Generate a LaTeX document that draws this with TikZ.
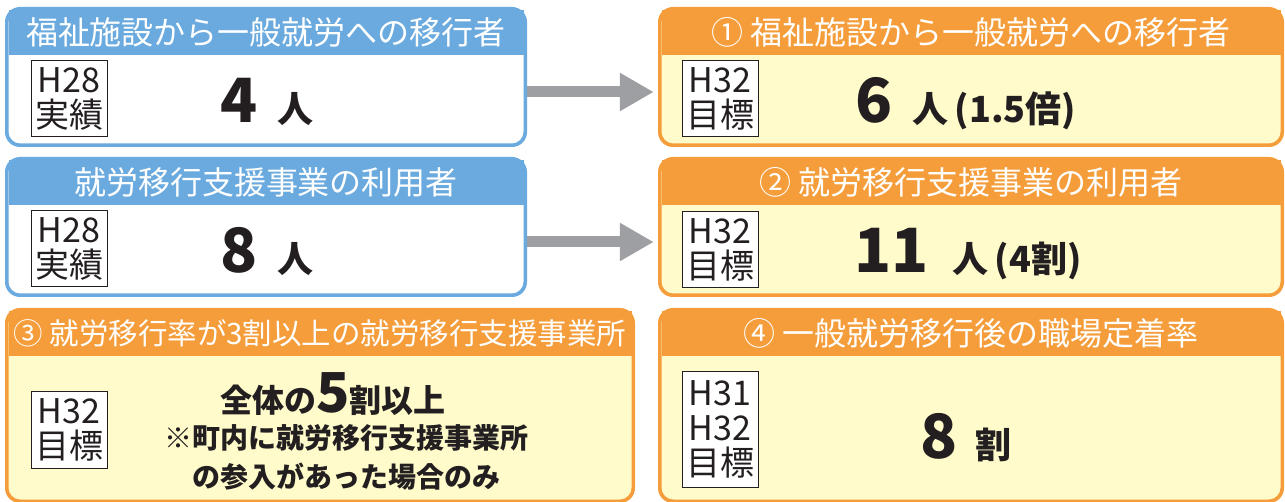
\documentclass[tikz,border=0pt]{standalone}
\usepackage{fontspec}
\setmainfont{Noto Sans CJK JP}
\usetikzlibrary{arrows.meta,fit}
\definecolor{hdrblue}{HTML}{6AAADE}
\definecolor{hdrorange}{HTML}{F59D3A}
\definecolor{goalfill}{HTML}{FFFBCB}
\definecolor{arrowgray}{HTML}{9D9FA2}
\definecolor{ink}{HTML}{231F20}
\tikzset{>=latex,
    hdr/.style={text=white,inner sep=0,font=\fontsize{32}{32}\selectfont},
    tag/.style={draw=ink,line width=1,fill=white,text=ink,align=center,
        inner sep=0,minimum width=76pt,minimum height=76pt,
        font=\fontsize{34}{35}\selectfont},
    val/.style={anchor=base,text=ink,inner sep=0,font=\bfseries},
    flow/.style={arrowgray,line width=11pt,
        -{Triangle[length=34pt,width=36pt]},shorten >=4pt}
}
\newcommand\panel[9]{
    \fill[#6,rounded corners=15] (#1,#2) rectangle (#3,#4);
    \fill[#7,rounded corners=12] (#1+3.5,#2+3.5) rectangle (#3-3.5,#4-3.5);
    \fill[#6] (#1+3.5,#2+3.5) rectangle (#3-3.5,#5);
    \node[fit={(#1,#2) (#3,#4)},inner sep=0] (#8) {};
    \node[hdr] (#8-hdr) at ({(#1+#3)/2},{(#2+#5)/2+1}) {#9};
}
\newcommand\numtxt[1]{{\fontsize{61}{61}\selectfont #1}}
\newcommand\unittxt[1]{{\fontsize{36}{36}\selectfont #1}}

\begin{document}
\begin{tikzpicture}[x=1pt,y=-1pt]
            \useasboundingbox (0,0) rectangle (1285,502);
            \panel{5}{7}{527}{147}{55}{hdrblue}{white}{now1}{福祉施設から一般就労への移行者}
            \panel{5}{157}{527}{297}{205}{hdrblue}{white}{now2}{就労移行支援事業の利用者}
            \panel{5}{308}{635}{503}{356}{hdrorange}{goalfill}{goal3}
                {\fontsize{29.5}{29.5}\selectfont ③ 就労移行率が3割以上の就労移行支援事業所}
            \panel{658}{7}{1284}{147}{55}{hdrorange}{goalfill}{goal1}{① 福祉施設から一般就労への移行者}
            \panel{658}{157}{1284}{297}{205}{hdrorange}{goalfill}{goal2}{② 就労移行支援事業の利用者}
            \panel{658}{308}{1284}{503}{356}{hdrorange}{goalfill}{goal4}{④ 一般就労移行後の職場定着率}
            \node[tag] (tag1) at (69,99) {H28\\実績};
            \node[tag] (tag2) at (69,249) {H28\\実績};
            \node[tag] (tag3) at (69,430) {H32\\目標};
            \node[tag] (tag4) at (720,99) {H32\\目標};
            \node[tag] (tag5) at (720,249.5) {H32\\目標};
            \node[tag,minimum height=115pt] (tag6) at (720,429.5) {H31\\H32\\目標};
            \node[val] (val1) at (267,123) {\numtxt{4}\hspace{20pt}\unittxt{人}};
            \node[val] (val2) at (267,273) {\numtxt{8}\hspace{20pt}\unittxt{人}};
            \node[val] (val4) at (966,123) {\numtxt{6}\hspace{20pt}\unittxt{人\,(1.5倍)}};
            \node[val] (val5) at (968,273) {\numtxt{11}\hspace{24pt}\unittxt{人\,(4割)}};
            \node[val] (val6) at (966,458) {\numtxt{8}\hspace{18pt}\unittxt{割}};
            \node[val,font=\bfseries\fontsize{32}{32}\selectfont] (val3) at (333,413)
                {全体の{\fontsize{55}{55}\selectfont 5}割以上};
            \node[val,font=\bfseries\fontsize{28}{28}\selectfont] (note3a) at (346,448)
                {※町内に就労移行支援事業所};
            \node[val,font=\bfseries\fontsize{28}{28}\selectfont] (note3b) at (346,487)
                {の参入があった場合のみ};
            \draw[flow] ([yshift=-15pt]now1.east) -- ([yshift=-15pt]goal1.west);
            \draw[flow] ([yshift=-15pt]now2.east) -- ([yshift=-15pt]goal2.west);
        \end{tikzpicture}
\end{document}
